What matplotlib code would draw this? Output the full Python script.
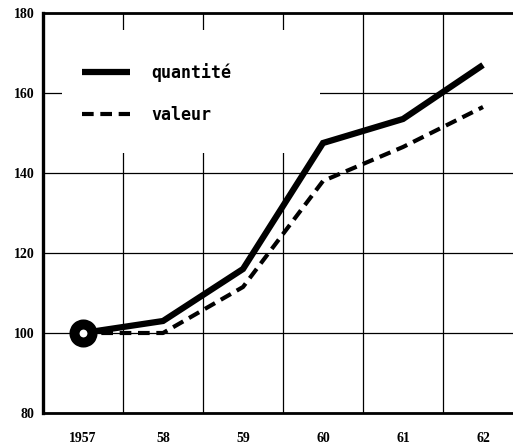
import numpy as np
import matplotlib
matplotlib.use("Agg")
import matplotlib.pyplot as plt
from matplotlib.patches import Rectangle

# donnees (indice 1957 = 100)
annees = ["1957", "58", "59", "60", "61", "62"]
quantite = [100, 103, 116, 147.5, 153.5, 167]
valeur = [100, 100, 111.5, 138, 146.5, 156.5]
y_ticks = [80, 100, 120, 140, 160, 180]

x = np.arange(len(annees)) + 0.5

fig = plt.figure(figsize=(5.13, 4.45), dpi=100)
ax = fig.add_axes([43 / 513, 32 / 445, 470 / 513, 400 / 445])

# grille en arriere-plan
ax.set_axisbelow(True)
ax.set_xticks(np.arange(1, 6), minor=True)
ax.grid(which="minor", axis="x", color="black", lw=0.9)
ax.grid(which="major", axis="y", color="black", lw=0.9)

# zone blanche de la legende (cache la grille)
ax.add_patch(Rectangle((0.040, 0.65), 0.549, 0.3075, transform=ax.transAxes,
                       facecolor="white", edgecolor="none", zorder=1))

ax.plot(x, quantite, color="black", lw=4.5, solid_joinstyle="miter",
        solid_capstyle="butt", label="quantité", zorder=3)
ax.plot(x, valeur, color="black", lw=3.0, ls=(0, (2.8, 1.6)),
        label="valeur", zorder=3)
ax.plot(x[0], quantite[0], marker="o", ms=13, mfc="white", mec="black",
        mew=7.2, zorder=4)

ax.set_xlim(0, 470 / 80)
ax.set_ylim(80, 180)

ax.set_xticks(x)
ax.set_xticklabels(annees)
ax.set_yticks(y_ticks)
ax.tick_params(axis="both", which="both", length=0)
ax.tick_params(axis="x", pad=14)
ax.tick_params(axis="y", pad=6)
for lab in ax.get_xticklabels() + ax.get_yticklabels():
    lab.set_fontfamily("Liberation Serif")
    lab.set_fontweight("bold")
    lab.set_fontsize(10)
for lab in ax.get_yticklabels():
    lab.set_verticalalignment("center_baseline")

ax.spines["right"].set_visible(False)
ax.spines["left"].set_linewidth(2.4)
ax.spines["top"].set_linewidth(2.0)
ax.spines["bottom"].set_linewidth(2.0)

leg = ax.legend(loc="upper left", bbox_to_anchor=(0.05, 0.912), frameon=False,
                handlelength=2.9, handletextpad=1.3, labelspacing=1.42,
                prop={"family": "DejaVu Sans Mono", "weight": "bold", "size": 12})

fig.savefig("out.png", dpi=100)
